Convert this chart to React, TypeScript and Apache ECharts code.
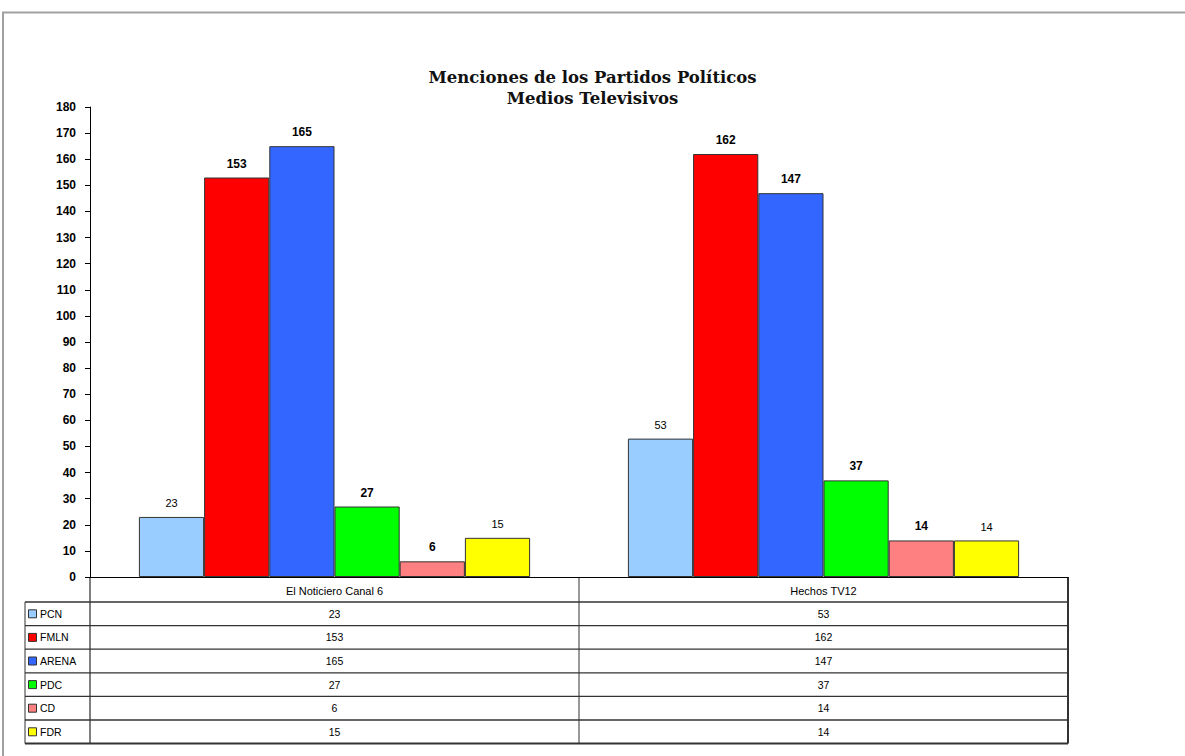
import React, { useEffect, useRef } from "react";
import * as echarts from "echarts";

const categories = ["El Noticiero Canal 6", "Hechos TV12"];
const parties = ["PCN", "FMLN", "ARENA", "PDC", "CD", "FDR"];
const pcn = [23, 53];
const fmln = [153, 162];
const arena = [165, 147];
const pdc = [27, 37];
const cd = [6, 14];
const fdr = [15, 14];
const seriesValues = [pcn, fmln, arena, pdc, cd, fdr];
const yMin = 0;
const yMax = 180;
const yStep = 10;

const colors = ["#99CCFF", "#FF0000", "#3366FF", "#00FF00", "#FF8080", "#FFFF00"];
const labelBold = [
  [false, false],
  [true, true],
  [true, true],
  [true, true],
  [true, true],
  [false, false],
];

const FONT = "'Liberation Sans', Arial, sans-serif";

export default function App() {
  const ref = useRef<HTMLDivElement>(null);
  useEffect(() => {
    if (!ref.current) return;
    const chart = echarts.init(ref.current, null, { renderer: "svg" });
    const option: any = {
      animation: false,
      backgroundColor: "#ffffff",
      title: {
        text: "Menciones de los Partidos Políticos\nMedios Televisivos",
        left: "center",
        top: 62,
        textStyle: {
          fontFamily: "'DejaVu Serif', serif",
          fontSize: 16.5,
          fontWeight: "bold",
          color: "#111",
          lineHeight: 21,
        },
      },
      grid: { left: 90, right: 117, top: 107, bottom: 179, containLabel: false },
      xAxis: {
        type: "category",
        data: categories,
        axisLine: { lineStyle: { color: "#000", width: 1 } },
        axisTick: { show: false },
        axisLabel: { color: "#000", fontFamily: FONT, fontSize: 11, margin: 8 },
      },
      yAxis: {
        type: "value",
        min: yMin,
        max: yMax,
        interval: yStep,
        axisLine: { show: true, lineStyle: { color: "#000", width: 1 } },
        axisTick: { show: true, inside: false, length: 5, lineStyle: { color: "#000" } },
        axisLabel: { color: "#000", fontFamily: FONT, fontSize: 12, fontWeight: "bold", margin: 14 },
        splitLine: { show: false },
      },
      series: parties.map((p, i) => ({
        name: p,
        type: "bar",
        barGap: "0%",
        barCategoryGap: "20%",
        itemStyle: { color: colors[i], borderColor: "#333", borderWidth: 1 },
        label: {
          show: true,
          position: "top",
          distance: 8,
          color: "#000",
          fontFamily: FONT,
          fontSize: 11,
        },
        data: seriesValues[i].map((v, j) => ({
          value: v,
          label: labelBold[i][j] ? { fontWeight: "bold", fontSize: 12 } : { fontWeight: "normal", fontSize: 11 },
        })),
      })),
    };
    chart.setOption(option);

    // Build data table from axis positions
    const c0 = chart.convertToPixel({ xAxisIndex: 0 }, categories[0]) as number;
    const c1 = chart.convertToPixel({ xAxisIndex: 0 }, categories[1]) as number;
    const bw = c1 - c0;
    const xLeft = c0 - bw / 2;
    const xRight = c1 + bw / 2;
    const xMid = c0 + bw / 2;
    const y0 = chart.convertToPixel({ yAxisIndex: 0 }, 0) as number;
    const headerH = 25;
    const rowH = 23.6;
    const legendLeft = 25;
    const tableBottom = y0 + headerH + rowH * parties.length;
    const lineColor = "#333";
    const g: any[] = [];
    g.push({
      type: "rect",
      shape: { x: 3, y: 12.5, width: 1200, height: 800 },
      style: { fill: "none", stroke: "#a0a0a0", lineWidth: 2 },
      silent: true,
    });
    g.push({ type: "line", shape: { x1: xLeft, y1: y0, x2: xLeft, y2: tableBottom }, style: { stroke: "#000", lineWidth: 1 } });
    g.push({ type: "line", shape: { x1: xMid, y1: y0, x2: xMid, y2: tableBottom }, style: { stroke: lineColor, lineWidth: 1 } });
    g.push({ type: "line", shape: { x1: xRight, y1: y0, x2: xRight, y2: tableBottom }, style: { stroke: lineColor, lineWidth: 2 } });
    g.push({ type: "line", shape: { x1: legendLeft, y1: y0 + headerH, x2: legendLeft, y2: tableBottom }, style: { stroke: lineColor, lineWidth: 1 } });
    for (let r = 0; r <= parties.length; r++) {
      const y = y0 + headerH + rowH * r;
      g.push({ type: "line", shape: { x1: legendLeft, y1: y, x2: xRight, y2: y }, style: { stroke: lineColor, lineWidth: r === parties.length ? 2 : 1.3 } });
    }
    parties.forEach((p, i) => {
      const cy = y0 + headerH + rowH * i + rowH / 2;
      g.push({
        type: "rect",
        shape: { x: legendLeft + 3.5, y: cy - 4, width: 8, height: 8 },
        style: { fill: colors[i], stroke: "#333", lineWidth: 1 },
      });
      g.push({
        type: "text",
        x: legendLeft + 15,
        y: cy,
        style: { text: p, fontFamily: FONT, fontSize: 10.5, fill: "#000", verticalAlign: "middle", align: "left" },
      });
      [c0, c1].forEach((cx, j) => {
        g.push({
          type: "text",
          x: cx,
          y: cy,
          style: { text: String(seriesValues[i][j]), fontFamily: FONT, fontSize: 10.5, fill: "#000", verticalAlign: "middle", align: "center" },
        });
      });
    });
    chart.setOption({ graphic: g });

    return () => chart.dispose();
  }, []);
  return (
    <div
      ref={ref}
      style={{ position: "absolute", left: 0, top: 0, width: 1185, height: 756 }}
    />
  );
}
